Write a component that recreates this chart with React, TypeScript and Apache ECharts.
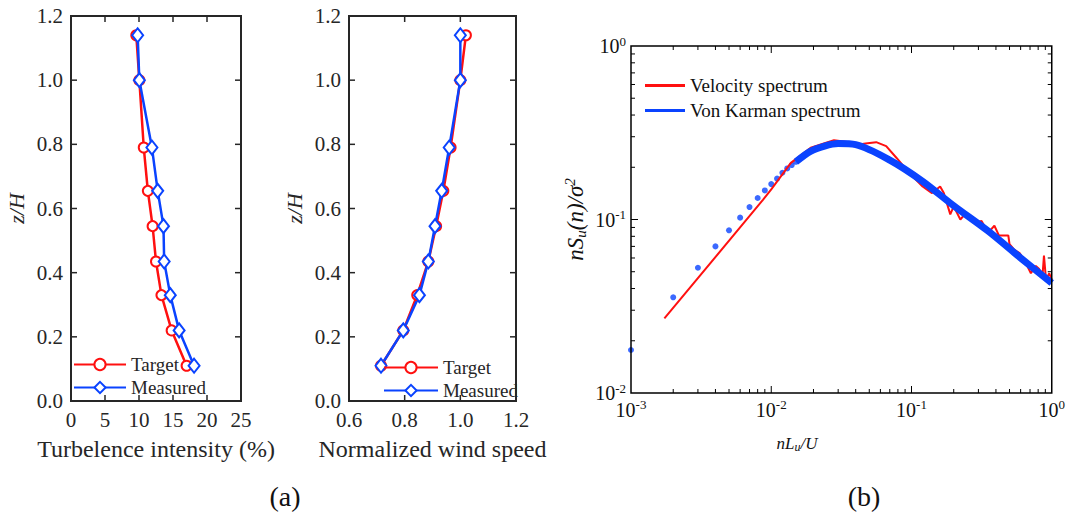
import React, { useEffect, useRef } from "react";
import * as echarts from "echarts";

// ---- Data ----
const heights = [1.14, 1.0, 0.79, 0.655, 0.545, 0.435, 0.33, 0.22, 0.11];
const tiTarget = [9.6, 10.05, 10.7, 11.3, 12.0, 12.5, 13.3, 14.8, 17.0];
const tiMeasured = [9.8, 10.05, 11.9, 12.75, 13.6, 13.7, 14.6, 15.9, 18.1];
const wsTarget = [1.02, 1.0, 0.965, 0.939, 0.913, 0.885, 0.845, 0.795, 0.715];
const wsMeasured = [1.0, 1.0, 0.96, 0.933, 0.909, 0.885, 0.853, 0.795, 0.715];

const tiTicks = [0, 5, 10, 15, 20, 25];
const wsTicks = [0.6, 0.8, 1.0, 1.2];
const zTicks = [0, 0.2, 0.4, 0.6, 0.8, 1.0, 1.2];
const logMajorX = [0.001, 0.01, 0.1, 1];
const logMajorY = [0.01, 0.1, 1];
const logMinorX = [0.002, 0.003, 0.004, 0.005, 0.006, 0.007, 0.008, 0.009, 0.02, 0.03, 0.04, 0.05, 0.06, 0.07, 0.08, 0.09, 0.2, 0.3, 0.4, 0.5, 0.6, 0.7, 0.8, 0.9];
const logMinorY = [0.02, 0.03, 0.04, 0.05, 0.06, 0.07, 0.08, 0.09, 0.2, 0.3, 0.4, 0.5, 0.6, 0.7, 0.8, 0.9];

const velF = [0.00173, 0.00875, 0.01, 0.0138, 0.0191, 0.028, 0.036, 0.041, 0.047, 0.056, 0.066, 0.078, 0.0966, 0.12, 0.14, 0.16, 0.17, 0.189, 0.2, 0.223, 0.24, 0.282, 0.316, 0.352, 0.39, 0.42, 0.49, 0.5, 0.54, 0.59, 0.64, 0.71, 0.77, 0.81, 0.86, 0.88, 0.91, 0.96, 1.0];
const velS = [0.0269, 0.13, 0.149, 0.212, 0.259, 0.286, 0.279, 0.27, 0.274, 0.279, 0.265, 0.227, 0.185, 0.155, 0.142, 0.155, 0.142, 0.107, 0.119, 0.1, 0.107, 0.096, 0.098, 0.084, 0.092, 0.081, 0.081, 0.072, 0.067, 0.064, 0.058, 0.049, 0.054, 0.052, 0.048, 0.062, 0.045, 0.049, 0.045];

const vkDotF = [0.001, 0.002, 0.003, 0.004, 0.005, 0.006, 0.007, 0.008, 0.009, 0.01, 0.011, 0.012, 0.013, 0.014, 0.015];
const vkDotS = [0.0177, 0.0356, 0.0527, 0.07, 0.0866, 0.1025, 0.118, 0.133, 0.147, 0.16, 0.172, 0.186, 0.197, 0.206, 0.215];
const vkLineF = [0.015, 0.019, 0.024, 0.03, 0.04, 0.07, 0.12, 0.2, 0.35, 0.6, 1.0];
const vkLineS = [0.215, 0.247, 0.265, 0.274, 0.27, 0.22, 0.166, 0.12, 0.086, 0.06, 0.043];

const RED = "#ff1010";
const BLUE = "#0a43ff";
const DARK = "#262626";
const FONT = "Liberation Serif";

const GRIDS = [
  { left: 71, top: 16, width: 170, height: 385 },
  { left: 349, top: 16, width: 167, height: 385 },
  { left: 631, top: 46, width: 427, height: 347 },
];

const zip = (a: number[], b: number[]) => a.map((v, i) => [v, b[i]]);
const pow10 = (v: number) => `{b|10}{s|${Math.round(Math.log10(v))}}`;
const powRich = {
  b: { fontFamily: FONT, fontSize: 20, color: "#111" },
  s: { fontFamily: FONT, fontSize: 13, color: "#111", padding: [0, 0, 10, 0] },
};

// ---------- chart with data, labels, legends ----------
function dataOption() {
  const lblStyle = { fontFamily: FONT, fontSize: 21, color: DARK };
  const linAxis = (grid: number, min: number, max: number, interval: number, extra: any = {}) => ({
    type: "value",
    gridIndex: grid,
    min,
    max,
    interval,
    axisLine: { show: false },
    axisTick: { show: false },
    splitLine: { show: false },
    axisLabel: { show: true, ...lblStyle, margin: 8, formatter: (v: number) => (interval < 1 ? v.toFixed(1) : String(v)) },
    ...extra,
  });
  const logAxis = (min: number, extra: any = {}) => ({
    type: "log",
    logBase: 10,
    gridIndex: 2,
    min,
    max: 1,
    axisLine: { show: false },
    axisTick: { show: false },
    splitLine: { show: false },
    axisLabel: { show: true, formatter: pow10, rich: powRich, margin: 5 },
    ...extra,
  });
  const lineSeries = (name: string, ai: number, xs: number[], color: string, symbol: string, size: any) => ({
    type: "line",
    name,
    xAxisIndex: ai,
    yAxisIndex: ai,
    data: zip(xs, heights),
    symbol,
    symbolSize: size,
    showSymbol: true,
    lineStyle: { color, width: 2.5 },
    itemStyle: { color, borderColor: color, borderWidth: 2 },
  });
  const zName = {
    name: "z/H",
    nameLocation: "middle",
    nameGap: 44,
    nameTextStyle: { fontFamily: FONT, fontSize: 22, fontStyle: "italic", color: DARK },
  };
  return {
    animation: false,
    grid: GRIDS,
    xAxis: [
      linAxis(0, tiTicks[0], tiTicks[tiTicks.length - 1], 5, {
        name: "Turbelence intensity (%)",
        nameLocation: "middle",
        nameGap: 36,
        nameTextStyle: { fontFamily: FONT, fontSize: 24, color: DARK },
      }),
      linAxis(1, wsTicks[0], wsTicks[wsTicks.length - 1], 0.2, {
        name: "Normalized wind speed",
        nameLocation: "middle",
        nameGap: 36,
        nameTextStyle: { fontFamily: FONT, fontSize: 24, color: DARK },
      }),
      logAxis(0.001),
    ],
    yAxis: [
      linAxis(0, zTicks[0], zTicks[zTicks.length - 1], 0.2, zName),
      linAxis(1, zTicks[0], zTicks[zTicks.length - 1], 0.2, zName),
      logAxis(0.01, {
        name: "{i|nS}{sub|u}{i|(n)/σ}{sup|2}",
        nameLocation: "middle",
        nameGap: 42,
        nameTextStyle: {
          fontFamily: FONT,
          fontSize: 23,
          fontStyle: "italic",
          color: "#111",
          rich: {
            i: { fontFamily: FONT, fontSize: 23, fontStyle: "italic", color: "#111" },
            sub: { fontFamily: FONT, fontSize: 15, fontStyle: "italic", color: "#111", padding: [10, 0, 0, 0] },
            sup: { fontFamily: FONT, fontSize: 15, fontStyle: "italic", color: "#111", padding: [0, 0, 12, 0] },
          },
        },
      }),
    ],
    legend: [
      {
        orient: "vertical",
        left: 68,
        top: 350,
        itemWidth: 52,
        itemHeight: 14,
        itemGap: 4,
        data: ["Target", "Measured"],
        textStyle: { fontFamily: FONT, fontSize: 19, color: DARK },
        selectedMode: false,
      },
      {
        orient: "vertical",
        left: 378,
        top: 353,
        itemWidth: 54,
        itemHeight: 14,
        itemGap: 4,
        data: ["Target", "Measured"],
        textStyle: { fontFamily: FONT, fontSize: 19, color: DARK },
        selectedMode: false,
      },
      {
        orient: "vertical",
        left: 640,
        top: 71,
        itemWidth: 40,
        itemHeight: 3,
        itemGap: 6,
        icon: "rect",
        data: ["Velocity spectrum", "Von Karman spectrum"],
        textStyle: { fontFamily: FONT, fontSize: 19, color: "#111", lineHeight: 19 },
        selectedMode: false,
      },
    ],
    series: [
      lineSeries("Target", 0, tiTarget, RED, "emptyCircle", 10),
      lineSeries("Measured", 0, tiMeasured, BLUE, "emptyDiamond", [11, 14]),
      lineSeries("Target", 1, wsTarget, RED, "emptyCircle", 10),
      lineSeries("Measured", 1, wsMeasured, BLUE, "emptyDiamond", [11, 14]),
      {
        type: "line",
        name: "Velocity spectrum",
        xAxisIndex: 2,
        yAxisIndex: 2,
        data: zip(velF, velS),
        symbol: "none",
        lineStyle: { color: RED, width: 2 },
        itemStyle: { color: RED },
      },
      {
        type: "line",
        name: "Von Karman spectrum",
        xAxisIndex: 2,
        yAxisIndex: 2,
        data: zip(vkLineF, vkLineS),
        symbol: "none",
        smooth: 0.3,
        lineStyle: { color: BLUE, width: 7 },
        itemStyle: { color: BLUE },
      },
      {
        type: "scatter",
        name: "vk-dots",
        xAxisIndex: 2,
        yAxisIndex: 2,
        data: zip(vkDotF, vkDotS),
        symbol: "circle",
        symbolSize: 6,
        itemStyle: { color: BLUE },
        clip: false,
      },
    ],
    graphic: [
      {
        type: "text",
        x: 797,
        y: 443,
        style: {
          text: "{i|nL}{sub|u}{i|/U}",
          align: "center",
          verticalAlign: "middle",
          rich: {
            i: { fontFamily: FONT, fontSize: 17, fontStyle: "italic", fill: "#111" },
            sub: { fontFamily: FONT, fontSize: 12, fontStyle: "italic", fill: "#111", padding: [8, 0, 0, 0] },
          },
        },
      },
      {
        type: "text",
        x: 285,
        y: 496,
        style: { text: "(a)", font: `28px "${FONT}"`, fill: "#111", align: "center", verticalAlign: "middle" },
      },
      {
        type: "text",
        x: 864,
        y: 496,
        style: { text: "(b)", font: `28px "${FONT}"`, fill: "#111", align: "center", verticalAlign: "middle" },
      },
    ],
  };
}

// ---------- frames and inward ticks, placed with the data chart's own scales ----------
function frameGraphics(a: any) {
  const out: any[] = [];
  const conv = (gi: number, x: number, y: number) => a.convertToPixel({ gridIndex: gi }, [x, y]) as number[];
  const panel = (
    gi: number,
    xr: number[],
    yr: number[],
    xt: [number, number][],
    yt: [number, number][],
    color: string,
    lw: number,
    tw: number
  ) => {
    const p0 = conv(gi, xr[0], yr[0]);
    const p1 = conv(gi, xr[1], yr[1]);
    if (!p0 || !p1) return;
    const left = p0[0];
    const right = p1[0];
    const bottom = p0[1];
    const top = p1[1];
    out.push({
      type: "rect",
      shape: { x: left, y: top, width: right - left, height: bottom - top },
      style: { fill: "none", stroke: color, lineWidth: lw },
    });
    const st = { stroke: color, lineWidth: tw };
    xt.forEach(([v, len]) => {
      const x = conv(gi, v, yr[0])[0];
      out.push({ type: "line", shape: { x1: x, y1: bottom, x2: x, y2: bottom - len }, style: st });
      out.push({ type: "line", shape: { x1: x, y1: top, x2: x, y2: top + len }, style: st });
    });
    yt.forEach(([v, len]) => {
      const y = conv(gi, xr[0], v)[1];
      out.push({ type: "line", shape: { x1: left, y1: y, x2: left + len, y2: y }, style: st });
      out.push({ type: "line", shape: { x1: right, y1: y, x2: right - len, y2: y }, style: st });
    });
  };
  const inner = (arr: number[], len: number) => arr.slice(1, -1).map((v) => [v, len] as [number, number]);
  const all = (arr: number[], len: number) => arr.map((v) => [v, len] as [number, number]);

  panel(0, [tiTicks[0], tiTicks[tiTicks.length - 1]], [zTicks[0], zTicks[zTicks.length - 1]], inner(tiTicks, 6), inner(zTicks, 6), DARK, 2, 1.5);
  panel(1, [wsTicks[0], wsTicks[wsTicks.length - 1]], [zTicks[0], zTicks[zTicks.length - 1]], inner(wsTicks, 6), inner(zTicks, 6), DARK, 2, 1.5);
  panel(
    2,
    [logMajorX[0], logMajorX[logMajorX.length - 1]],
    [logMajorY[0], logMajorY[logMajorY.length - 1]],
    [...inner(logMajorX, 7), ...all(logMinorX, 4)],
    [...inner(logMajorY, 7), ...all(logMinorY, 4)],
    "#000",
    1.5,
    1
  );
  return out;
}

export default function App() {
  const refA = useRef<HTMLDivElement>(null);
  const refC = useRef<HTMLDivElement>(null);
  useEffect(() => {
    const a = echarts.init(refA.current!, null, { renderer: "svg" });
    a.setOption(dataOption() as any);
    const c = echarts.init(refC.current!, null, { renderer: "svg" });
    let g: any[] = [];
    try {
      g = frameGraphics(a);
    } catch (e) {
      g = [];
    }
    c.setOption({ animation: false, graphic: g } as any);
    return () => {
      a.dispose();
      c.dispose();
    };
  }, []);

  const box: any = { position: "absolute", left: 0, top: 0, width: 1068, height: 515 };
  return (
    <div style={{ ...box, background: "#fff" }}>
      <div ref={refA} style={box} />
      <div ref={refC} style={{ ...box, pointerEvents: "none" }} />
    </div>
  );
}
